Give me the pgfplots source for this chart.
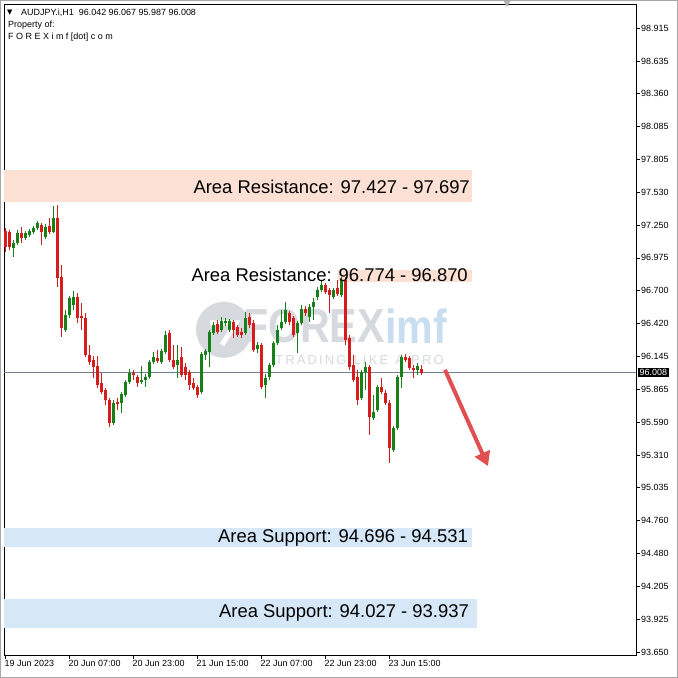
\documentclass[border=0pt]{standalone}
\usepackage{fontspec}
\setmainfont{Liberation Sans}
\newfontfamily\dejavu{DejaVu Sans}
\usepackage{pgfplots}
\usepackage{pgfplotstable}
\pgfplotsset{compat=1.18}
\usetikzlibrary{arrows.meta}
\definecolor{cgreen}{RGB}{24,128,24}
\definecolor{cred}{RGB}{214,28,28}
\definecolor{respeach}{RGB}{252,224,212}
\definecolor{supblue}{RGB}{214,232,248}
\definecolor{hline}{RGB}{112,128,144}
\definecolor{wmgray}{RGB}{214,217,222}
\definecolor{wmblue}{RGB}{200,221,240}
\definecolor{arrowred}{RGB}{225,80,80}

\pgfplotstableread{
i o h l c
2 97.058 97.126 96.983 97.101
3 97.101 97.210 97.084 97.185
5 97.143 97.202 97.126 97.185
6 97.168 97.219 97.151 97.202
7 97.193 97.244 97.176 97.227
8 97.227 97.286 97.210 97.269
10 97.151 97.261 97.134 97.236
12 97.193 97.413 97.185 97.312
15 96.368 96.537 96.351 96.494
16 96.494 96.655 96.469 96.638
17 96.579 96.697 96.537 96.646
27 95.582 95.776 95.565 95.751
29 95.751 95.843 95.666 95.827
30 95.818 95.945 95.801 95.928
31 95.928 96.038 95.911 96.004
34 95.928 96.064 95.911 95.945
35 95.945 95.996 95.886 95.970
36 95.970 96.114 95.953 96.097
37 96.097 96.182 96.081 96.140
39 96.097 96.207 96.081 96.190
40 96.182 96.359 96.165 96.325
43 96.072 96.241 95.962 96.114
49 95.843 96.182 95.827 96.165
50 96.156 96.207 96.114 96.190
51 96.182 96.368 96.055 96.351
52 96.342 96.435 96.325 96.410
54 96.368 96.477 96.351 96.444
55 96.427 96.469 96.401 96.444
56 96.368 96.461 96.351 96.444
60 96.342 96.520 96.325 96.469
63 96.207 96.266 96.173 96.241
65 95.903 95.996 95.793 95.962
66 95.970 96.089 95.945 96.072
67 96.072 96.275 96.055 96.258
68 96.258 96.410 96.241 96.368
69 96.385 96.537 96.368 96.435
70 96.435 96.604 96.418 96.537
73 96.342 96.444 96.173 96.427
74 96.427 96.579 96.410 96.545
76 96.477 96.587 96.435 96.562
77 96.562 96.638 96.452 96.604
78 96.646 96.730 96.621 96.705
79 96.705 96.789 96.688 96.747
82 96.646 96.722 96.629 96.705
84 96.663 96.814 96.646 96.789
89 95.793 96.030 95.776 96.013
90 96.013 96.097 95.860 96.055
92 95.624 95.818 95.607 95.675
93 95.692 95.903 95.675 95.886
97 95.354 95.556 95.337 95.539
98 95.539 95.987 95.522 95.970
99 95.970 96.156 95.877 96.140
103 96.030 96.089 95.987 96.064
}\greentab

\pgfplotstableread{
i o h l c
0 97.202 97.227 97.025 97.067
1 97.193 97.210 97.042 97.067
4 97.185 97.236 97.101 97.143
9 97.253 97.269 97.084 97.193
11 97.244 97.312 97.176 97.193
13 97.312 97.421 96.730 96.806
14 96.814 96.915 96.308 96.385
18 96.646 96.680 96.427 96.469
19 96.486 96.595 96.368 96.469
20 96.469 96.510 96.140 96.156
21 96.156 96.241 96.072 96.097
22 96.114 96.148 95.962 96.055
23 96.064 96.148 95.877 95.903
24 95.920 96.004 95.827 95.843
25 95.860 95.877 95.734 95.776
26 95.776 95.793 95.548 95.582
28 95.759 95.793 95.692 95.742
32 96.004 96.030 95.945 95.987
33 95.970 95.987 95.886 95.920
38 96.131 96.199 96.089 96.106
41 96.342 96.368 96.097 96.114
42 96.114 96.241 96.038 96.055
44 96.140 96.224 95.970 95.987
45 96.055 96.089 95.945 95.987
46 96.013 96.030 95.860 95.903
47 95.920 95.962 95.860 95.877
48 95.886 95.903 95.793 95.818
53 96.418 96.452 96.334 96.351
57 96.435 96.452 96.300 96.368
58 96.393 96.410 96.308 96.325
59 96.351 96.385 96.300 96.325
61 96.477 96.510 96.385 96.410
62 96.427 96.452 96.182 96.199
64 96.241 96.258 95.869 95.886
71 96.510 96.528 96.410 96.435
72 96.469 96.486 96.308 96.325
75 96.545 96.570 96.486 96.510
80 96.747 96.764 96.671 96.688
81 96.705 96.722 96.510 96.663
83 96.722 96.789 96.655 96.671
85 96.789 96.814 96.241 96.283
86 96.300 96.325 96.030 96.055
87 96.072 96.156 95.928 95.945
88 95.970 96.030 95.734 95.776
91 96.055 96.072 95.480 95.632
94 95.886 95.962 95.827 95.843
95 95.835 95.860 95.734 95.751
96 95.751 95.776 95.244 95.371
100 96.140 96.165 96.097 96.114
101 96.131 96.148 96.030 96.047
102 96.047 96.072 95.962 96.030
104 96.042 96.067 95.987 96.008
}\redtab

\begin{document}
\begin{tikzpicture}
\useasboundingbox (0,0) rectangle (678bp,678bp);
\fill[white] (0,0) rectangle (678bp,678bp);
\begin{axis}[
  at={(4bp,23bp)}, anchor=south west,
  width=632bp, height=651bp, scale only axis,
  xmin=-0.25, xmax=157.75, ymin=93.624, ymax=99.117,
  clip mode=individual,
  axis line style={black, line width=0.8bp},
  tick align=outside, major tick length=4bp,
  tick style={black, line width=0.6bp},
  xtick pos=bottom, ytick pos=right, yticklabel pos=right,
  xtick={0,16,32,48,64,80,96},
  xticklabels={19 Jun 2023, 20 Jun 07:00, 20 Jun 23:00, 21 Jun 15:00, 22 Jun 07:00, 22 Jun 23:00, 23 Jun 15:00},
  x tick label style={anchor=north west, xshift=-1.5bp, inner sep=1bp, font=\fontsize{9}{10}\selectfont},
  ytick={98.915,98.635,98.360,98.085,97.805,97.530,97.250,96.975,96.700,96.420,96.145,95.865,95.590,95.310,95.035,94.760,94.480,94.205,93.925,93.650},
  yticklabels={98.915,98.635,98.360,98.085,97.805,97.530,97.250,96.975,96.700,96.420,96.145,95.865,95.590,95.310,95.035,94.760,94.480,94.205,93.925,93.650},
  y tick label style={anchor=west, inner sep=1bp, font=\fontsize{9}{10}\selectfont},
]
% zones
\fill[respeach] (axis cs:-0.25,97.447) rectangle (axis cs:116.75,97.717);
\fill[respeach] (axis cs:83.25,96.774) rectangle (axis cs:116.75,96.870);
\fill[supblue] (axis cs:-0.25,94.535) rectangle (axis cs:116.75,94.695);
\fill[supblue] (axis cs:-0.25,93.851) rectangle (axis cs:118.0,94.096);
% watermark
\fill[wmgray] (axis cs:54.75,96.368) circle[radius=28bp];
\draw[white, line width=5bp] ([shift={(-14bp,7bp)}]axis cs:54.75,96.368) -- ++(26bp,0bp) -- ++(-14bp,-22bp);
\node[anchor=west, inner sep=0, text=wmgray, font=\fontsize{48}{50}\bfseries\selectfont, xscale=0.86] at (axis cs:59.5,96.40) {FOREX};
\node[anchor=west, inner sep=0, text=wmblue, font=\fontsize{48}{50}\bfseries\selectfont, xscale=0.86] at (axis cs:95,96.40) {imf};
\node[anchor=west, inner sep=0, text=wmgray, font=\fontsize{13}{14}\selectfont] at (axis cs:67.5,96.115) {T\,R\,A\,D\,I\,N\,G\ \ L\,I\,K\,E\ \ A\ \ P\,R\,O};
% current price line
\draw[hline, line width=0.8bp] (axis cs:-0.25,96.008) -- (axis cs:157.75,96.008);
% candles: wicks and bodies
\addplot[draw=none, forget plot, error bars/.cd, y dir=both, y explicit, error mark=none,
  error bar style={draw=cgreen, line width=1bp}]
  table[x=i, y expr={(\thisrow{h}+\thisrow{l})/2}, y error expr={(\thisrow{h}-\thisrow{l})/2}] {\greentab};
\addplot[draw=none, forget plot, error bars/.cd, y dir=both, y explicit, error mark=none,
  error bar style={draw=cgreen, line width=3bp}]
  table[x=i, y expr={(\thisrow{o}+\thisrow{c})/2}, y error expr={max(abs(\thisrow{o}-\thisrow{c})/2,0.0045)}] {\greentab};
\addplot[draw=none, forget plot, error bars/.cd, y dir=both, y explicit, error mark=none,
  error bar style={draw=cred, line width=1bp}]
  table[x=i, y expr={(\thisrow{h}+\thisrow{l})/2}, y error expr={(\thisrow{h}-\thisrow{l})/2}] {\redtab};
\addplot[draw=none, forget plot, error bars/.cd, y dir=both, y explicit, error mark=none,
  error bar style={draw=cred, line width=3bp}]
  table[x=i, y expr={(\thisrow{o}+\thisrow{c})/2}, y error expr={max(abs(\thisrow{o}-\thisrow{c})/2,0.0045)}] {\redtab};
% labels
\node[anchor=east, inner sep=0, font=\fontsize{18.5}{20}\selectfont] at (axis cs:116.25,97.573) {Area Resistance: 97.427 - 97.697};
\node[anchor=east, inner sep=0, font=\fontsize{18.5}{20}\selectfont] at (axis cs:115.75,96.831) {Area Resistance: 96.774 - 96.870};
\node[anchor=east, inner sep=0, font=\fontsize{18.5}{20}\selectfont] at (axis cs:115.75,94.611) {Area Support: 94.696 - 94.531};
\node[anchor=east, inner sep=0, font=\fontsize{18.5}{20}\selectfont] at (axis cs:116.0,93.978) {Area Support: 94.027 - 93.937};
% arrow
\draw[arrowred, line width=4bp, -{Triangle[width=16bp,length=14bp]}] (axis cs:110,96.030) -- (axis cs:120.75,95.218);
% price tag
\node[fill=black, text=white, anchor=west, inner xsep=1.5bp, inner ysep=1bp, xshift=2bp, font=\fontsize{9}{10}\selectfont] at (axis cs:157.75,96.008) {96.008};
\end{axis}
% header text
\node[anchor=west, inner sep=0] at (7bp,665bp) {\dejavu\fontsize{7}{8}\selectfont ▼};
\node[anchor=west, inner sep=0, font=\fontsize{9}{10}\selectfont] at (21bp,665bp) {AUDJPY.i,H1\ \ 96.042 96.067 95.987 96.008};
\node[anchor=west, inner sep=0, font=\fontsize{9}{10}\selectfont] at (8bp,653bp) {Property of:};
\node[anchor=west, inner sep=0, font=\fontsize{9}{10}\selectfont] at (8bp,641bp) {F O R E X i m f [dot] c o m};
\fill[gray!60] (503bp,678bp) -- (511bp,678bp) -- (507bp,671bp) -- cycle;
\draw[gray!70, line width=1.2bp] (0.6bp,0.6bp) rectangle (677.4bp,677.4bp);
\end{tikzpicture}
\end{document}
